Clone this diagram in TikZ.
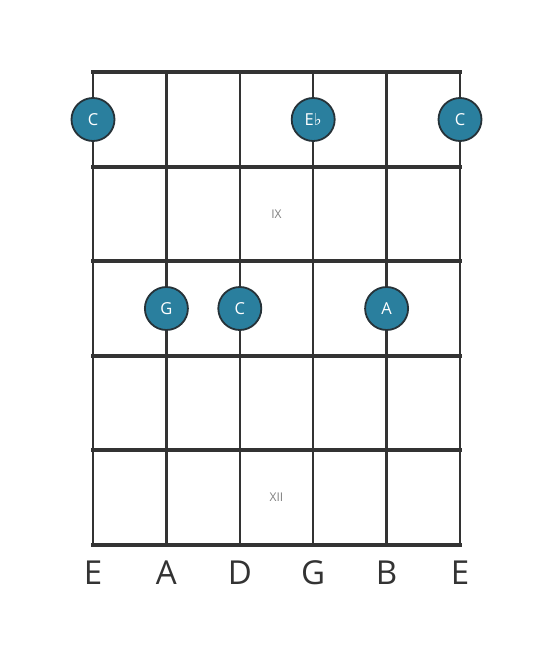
\documentclass[tikz,border=0pt]{standalone}
\usepackage{fontspec}
\setmainfont{Open Sans}
\newfontfamily\symfont{DejaVu Sans}
\definecolor{linecol}{HTML}{333333}
\definecolor{notefill}{HTML}{2A7F9E}
\definecolor{noteedge}{HTML}{263238}
\tikzset{
  fretline/.style={draw=linecol, line width=4pt},
  stringline/.style={draw=linecol, line width=2.5pt},
  note/.style={circle, fill=notefill, draw=noteedge, line width=1.8pt, minimum size=43pt, inner sep=0pt, text=white, font=\fontsize{16.5}{16.5}\selectfont},
  strlabel/.style={text=linecol, font=\fontsize{33}{33}\selectfont, inner sep=0pt},
  fretnum/.style={text=gray, font=\fontsize{12}{12}\selectfont, inner sep=0pt}
}
\begin{document}
\begin{tikzpicture}[x=1pt,y=-1pt]
\useasboundingbox (0,0) rectangle (553,656);
\fill[white] (0,0) rectangle (553,656);
\foreach \i/\x in {1/93,2/166.4,3/239.8,4/313.2,5/386.6,6/460}{
  \coordinate (st\i) at (\x,72);
  \coordinate (sb\i) at (\x,545);
  \draw[stringline] (st\i) -- (sb\i);
}
\foreach \j/\y in {0/72,1/166.6,2/261.2,3/355.8,4/450.4,5/545}{
  \coordinate (fl\j) at (93,\y);
  \coordinate (fr\j) at (460,\y);
  \draw[fretline, line cap=rect] (fl\j) -- (fr\j);
}
\node[fretnum] (ix) at (276.5,214) {IX};
\node[fretnum] (xii) at (276.5,497.5) {XII};
\node[note] (n1) at (93,119.5) {C};
\node[note] (n2) at (313.2,119.5) {E{\symfont ♭}};
\node[note] (n3) at (460,119.5) {C};
\node[note] (n4) at (166.4,308.5) {G};
\node[note] (n5) at (239.8,308.5) {C};
\node[note] (n6) at (386.6,308.5) {A};
\node[strlabel] (l1) at (93,573) {E};
\node[strlabel] (l2) at (166.4,573) {A};
\node[strlabel] (l3) at (239.8,573) {D};
\node[strlabel] (l4) at (313.2,573) {G};
\node[strlabel] (l5) at (386.6,573) {B};
\node[strlabel] (l6) at (460,573) {E};
\end{tikzpicture}
\end{document}
